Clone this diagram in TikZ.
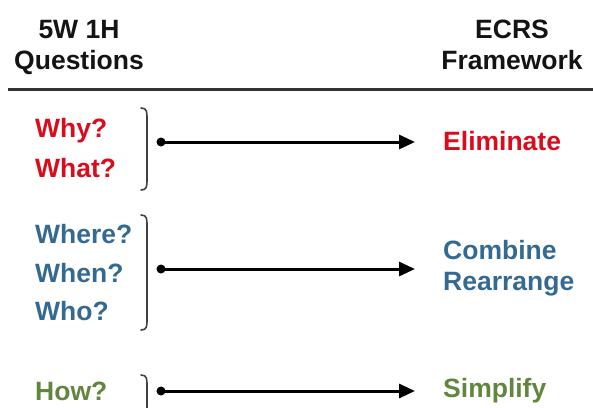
\documentclass[tikz,border=0pt]{standalone}
\usepackage{fontspec}
\setmainfont{Liberation Sans}
\usetikzlibrary{arrows.meta,calc}
\definecolor{cred}{RGB}{218,12,28}
\definecolor{cblue}{RGB}{52,106,146}
\definecolor{cgreen}{RGB}{98,134,62}
\definecolor{chead}{RGB}{20,20,20}
\tikzset{
  txt/.style={inner sep=0pt, anchor=base west, font=\bfseries\fontsize{26.5}{31}\selectfont},
  head/.style={inner sep=0pt, anchor=base, align=center, text=chead, font=\bfseries\fontsize{26.5}{31}\selectfont},
  brk/.style={draw=black!75, line width=1.6pt, line cap=round},
  dotn/.style={circle, fill=black, inner sep=0pt, minimum size=9pt},
  arr/.style={line width=3pt, -{Triangle[length=16pt,width=14pt]}}
}
\begin{document}
\begin{tikzpicture}[x=1pt,y=-1pt]
\useasboundingbox (0,0) rectangle (593,407);
% headers
\node[head] (h1a) at (79,38) {5W 1H};
\node[head] (h1b) at (79,69) {Questions};
\node[head] (h2a) at (512,38) {ECRS};
\node[head] (h2b) at (512,69) {Framework};
\draw[line width=3pt, draw=black!80] (8,89) -- (593,89);
% left questions
\node[txt, text=cred] (q1) at (35,137) {Why?};
\node[txt, text=cred] (q2) at (35,177) {What?};
\node[txt, text=cblue] (q3) at (35,243) {Where?};
\node[txt, text=cblue] (q4) at (35,282) {When?};
\node[txt, text=cblue] (q5) at (35,320) {Who?};
\node[txt, text=cgreen] (q6) at (35,400) {How?};
% right labels
\node[txt, text=cred] (e1) at (443,150) {Eliminate};
\node[txt, text=cblue] (e2) at (443,259) {Combine};
\node[txt, text=cblue] (e3) at (443,290) {Rearrange};
\node[txt, text=cgreen] (e4) at (443,397) {Simplify};
% brackets
\draw[brk] (141,108) .. controls (147,108) and (147,112) .. (147,118) -- (147,180) .. controls (147,186) and (147,190) .. (141,190);
\draw[brk] (141,215) .. controls (147,215) and (147,219) .. (147,225) -- (147,320) .. controls (147,326) and (147,330) .. (141,330);
\draw[brk] (141,375) .. controls (147,375) and (147,379) .. (147,385) -- (147,410);
% dots and arrows
\node[dotn] (d1) at (161,142) {};
\node[dotn] (d2) at (161,269) {};
\node[dotn] (d3) at (161,391) {};
\coordinate (t1) at (415,142);
\coordinate (t2) at (415,269);
\coordinate (t3) at (415,391);
\draw[arr] (d1.center) -- (t1);
\draw[arr] (d2.center) -- (t2);
\draw[arr] (d3.center) -- (t3);
\end{tikzpicture}
\end{document}
